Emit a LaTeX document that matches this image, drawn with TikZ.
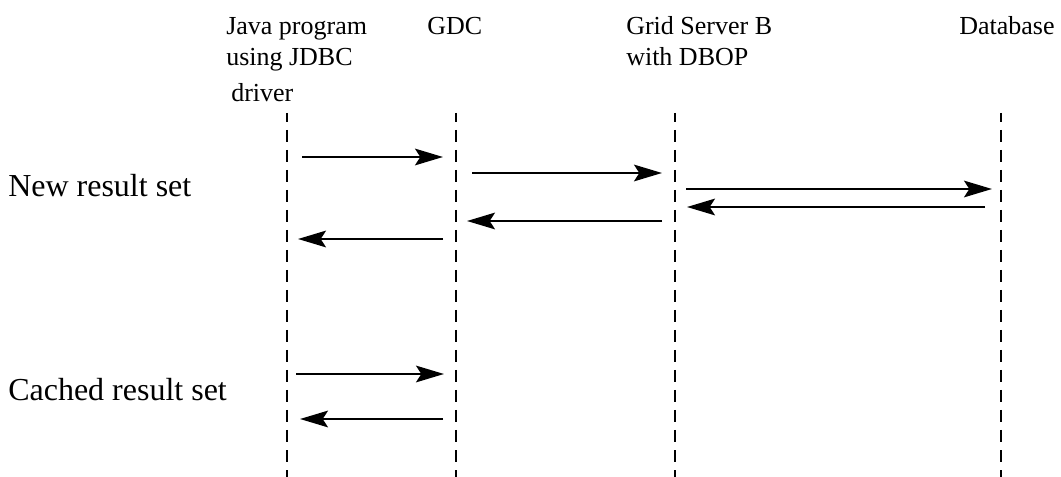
\documentclass[tikz,border=0pt]{standalone}
\usepackage{fontspec}
\setmainfont{Liberation Serif}
\usetikzlibrary{arrows.meta}
\tikzset{
  lifeline/.style={line width=1.5pt, dash pattern=on 9pt off 6pt, dash phase=2.25pt},
  msg/.style={line width=1.5pt, -{Stealth[length=21pt,width=12.5pt,inset=4pt]}},
  head/.style={anchor=base west, inner sep=0pt, font=\fontsize{19.5}{23.25}\selectfont, align=left},
  rowlabel/.style={anchor=base west, inner sep=0pt, font=\fontsize{24}{28}\selectfont},
}
\begin{document}
\begin{tikzpicture}[x=0.75pt,y=-0.75pt]
\useasboundingbox (0,0) rectangle (1061,477);
% headers (multi-line nodes: base = last line)
\node[head] (hjava) at (226,102) {Java program\\using JDBC\\[3.75pt]\hspace*{3.75pt}driver};
\node[head] (hgdc) at (427,35) {GDC};
\node[head] (hgrid) at (626,66) {Grid Server B\\with DBOP};
\node[head] (hdb) at (959,35) {Database};
% row labels
\node[rowlabel] (lnew) at (8,197) {New result set};
\node[rowlabel] (lcached) at (8,401) {Cached result set};
% lifelines
\coordinate (javaT) at (287,113); \coordinate (javaB) at (287,477);
\coordinate (gdcT) at (456,113);  \coordinate (gdcB) at (456,477);
\coordinate (gridT) at (675,113); \coordinate (gridB) at (675,477);
\coordinate (dbT) at (1001,113);  \coordinate (dbB) at (1001,477);
\draw[lifeline] (javaT) -- (javaB);
\draw[lifeline] (gdcT) -- (gdcB);
\draw[lifeline] (gridT) -- (gridB);
\draw[lifeline] (dbT) -- (dbB);
% messages: new result set
\coordinate (m1s) at (302,157); \coordinate (m1e) at (443,157);
\coordinate (m2s) at (472,173); \coordinate (m2e) at (662,173);
\coordinate (m3s) at (686,189); \coordinate (m3e) at (992,189);
\coordinate (m4s) at (985,207); \coordinate (m4e) at (687,207);
\coordinate (m5s) at (662,221); \coordinate (m5e) at (467,221);
\coordinate (m6s) at (443,239); \coordinate (m6e) at (298,239);
\draw[msg] (m1s) -- (m1e);
\draw[msg] (m2s) -- (m2e);
\draw[msg] (m3s) -- (m3e);
\draw[msg] (m4s) -- (m4e);
\draw[msg] (m5s) -- (m5e);
\draw[msg] (m6s) -- (m6e);
% messages: cached result set
\coordinate (c1s) at (296,374); \coordinate (c1e) at (444,374);
\coordinate (c2s) at (443,419); \coordinate (c2e) at (300,419);
\draw[msg] (c1s) -- (c1e);
\draw[msg] (c2s) -- (c2e);
\end{tikzpicture}
\end{document}
